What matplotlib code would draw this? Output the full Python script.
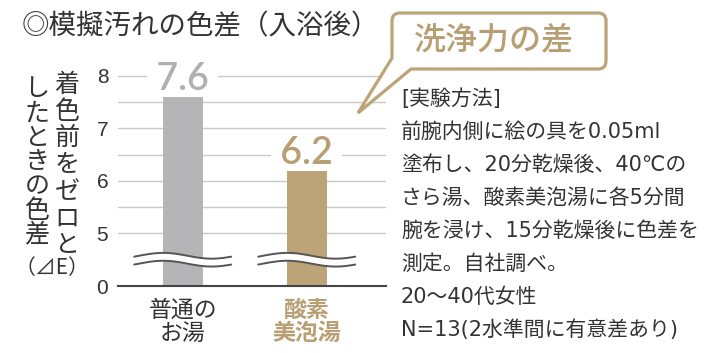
import matplotlib
matplotlib.use("Agg")
import matplotlib.pyplot as plt
import numpy as np
from matplotlib.path import Path
from matplotlib.patches import PathPatch

plt.rcParams['font.family'] = ['Noto Sans CJK JP', 'DejaVu Sans']

# ---------------- data ----------------
categories = ["普通の\nお湯", "酸素\n美泡湯"]
values = [7.6, 6.2]
value_labels = ["7.6", "6.2"]
ytick_values = [0, 5, 6, 7, 8]
ytick_labels = ["0", "5", "6", "7", "8"]
grid_values = [5, 5.5, 6, 6.5, 7, 7.5, 8]
title = "◎模擬汚れの色差（入浴後）"
ylabel_right = "着色前をゼロと"
ylabel_left = "したときの色差"
ylabel_unit = "（⊿E）"
callout_text = "洗浄力の差"
method_lines = [
    "[実験方法]",
    "前腕内側に絵の具を0.05ml",
    "塗布し、20分乾燥後、40℃の",
    "さら湯、酸素美泡湯に各5分間",
    "腕を浸け、15分乾燥後に色差を",
    "測定。自社調べ。",
    "20〜40代女性",
    "N=13(2水準間に有意差あり)",
]

# ---------------- style ----------------
GRAY = "#b5b5b7"
TAN = "#bca478"
GRAY_TXT = "#b0b0b2"
TAN_TXT = "#b89f73"
DARK = "#333333"
GRID = "#c9c9c9"

W, H = 715, 353
fig = plt.figure(figsize=(W / 100, H / 100), dpi=100)
fig.patch.set_facecolor("white")


def fx(px):
    return px / W


def fy(py):
    return 1 - py / H


# broken axis: value 0 is drawn one unit below 5
BREAK_POS = 4.0


def disp(v):
    return v if v >= 5 else BREAK_POS


ax_left, ax_right, ax_bottom_px = 118, 386, 286
ylim = (4.0, 8.5)
px_per_unit = (286 - 75.7) / 4.0
top_px = ax_bottom_px - (ylim[1] - ylim[0]) * px_per_unit
ax = fig.add_axes([fx(ax_left), fy(ax_bottom_px), (ax_right - ax_left) / W,
                   (ax_bottom_px - top_px) / H])
ax.set_facecolor("none")

xpos = np.arange(len(categories))
bar_w_px = 40
unit_px = 124.0
xl = -64.7 / unit_px
xr = (len(categories) - 1) + (386 - 306.7) / unit_px
ax.set_xlim(xl, xr)
ax.set_ylim(*ylim)
bw = bar_w_px / unit_px

# grid lines
for g in grid_values:
    ax.axhline(disp(g), color=GRID, lw=1.0, zorder=1)

bars = ax.bar(xpos, [disp(v) - BREAK_POS for v in values], bottom=BREAK_POS, width=bw,
              color=[GRAY, TAN], zorder=2)

# value labels
for x, v, lab, c in zip(xpos, values, value_labels, [GRAY_TXT, TAN_TXT]):
    ax.annotate(" " + lab + " ", xy=(x, disp(v)), xytext=(0, 4.5), textcoords="offset points",
                ha="center", va="baseline", fontsize=27, color=c,
                family=["Lato", "DejaVu Sans"], fontweight="semibold",
                bbox=dict(boxstyle="square,pad=0", fc="white", ec="none"),
                zorder=4, annotation_clip=False)

# wave break marks
half = 48.5 / unit_px
for x in xpos:
    t = np.linspace(0, 1, 120)
    xx = x - half + 2 * half * t
    amp = 0.055
    base = 4.5
    sep = 0.075
    wave = amp * np.sin(2 * np.pi * t - 0.1 * np.pi)
    ax.fill_between(xx, base - sep + wave, base + sep + wave, color="white", zorder=3, lw=0)
    ax.plot(xx, base + sep + wave, color="#555555", lw=1.4, zorder=3.5, solid_capstyle="round")
    ax.plot(xx, base - sep + wave, color="#555555", lw=1.4, zorder=3.5, solid_capstyle="round")

# axes styling
for s in ["left", "top", "right"]:
    ax.spines[s].set_visible(False)
ax.spines["bottom"].set_color("#444444")
ax.spines["bottom"].set_linewidth(1.5)
ax.spines["bottom"].set_zorder(5)
ax.set_yticks([disp(v) for v in ytick_values])
ax.set_yticklabels(ytick_labels, fontsize=15, color=DARK, family=["Liberation Sans"])
ax.tick_params(axis="y", length=0, pad=7)
ax.set_xticks(xpos)
ax.set_xticklabels(categories, fontsize=16.5, linespacing=1.0)
ax.tick_params(axis="x", length=0, pad=9)
for tl, c, w in zip(ax.get_xticklabels(), [DARK, TAN_TXT], ["normal", "bold"]):
    tl.set_color(c)
    tl.set_fontweight(w)

# title
fig.text(fx(22), fy(26.5), title, fontsize=19.8, color=DARK, ha="left", va="center")

# vertical y label
for i, ch in enumerate(ylabel_right):
    fig.text(fx(67), fy(85 + i * 26.7), ch, fontsize=18, color=DARK, ha="center", va="center")
for i, ch in enumerate(ylabel_left):
    fig.text(fx(37), fy(89 + i * 24.3), ch, fontsize=18, color=DARK, ha="center", va="center")
fig.text(fx(52), fy(268), ylabel_unit, fontsize=15, color=DARK, ha="center", va="center",
         family=["Noto Sans CJK JP", "DejaVu Sans"])

# callout
r = 8
tip = (358, 113)
L, R, T, B = 392, 606, 13, 69
pts = [tip, (L, 58), (L, T + r), (L, T), (L + r, T), (R - r, T), (R, T), (R, T + r),
       (R, B - r), (R, B), (R - r, B), (411, B), tip]
codes = [Path.MOVETO, Path.LINETO, Path.LINETO, Path.CURVE3, Path.CURVE3, Path.LINETO,
         Path.CURVE3, Path.CURVE3, Path.LINETO, Path.CURVE3, Path.CURVE3, Path.LINETO,
         Path.CLOSEPOLY]
path = Path([(fx(a), fy(b)) for a, b in pts], codes)
patch = PathPatch(path, transform=fig.transFigure, facecolor="white", edgecolor=TAN,
                  lw=2.3, joinstyle="miter", zorder=5)
fig.add_artist(patch)
fig.text(fx(494), fy(40.5), callout_text, fontsize=23, color=TAN_TXT, ha="center",
         va="center", zorder=6, fontweight="medium")

# method text
method_family = ["DejaVu Sans", "Noto Sans CJK JP"]
for i, line in enumerate(method_lines):
    fig.text(fx(401), fy(99 + i * 33), line, fontsize=15, color=DARK, ha="left",
             va="center", family=method_family)

fig.savefig("out.png", dpi=100, facecolor="white")
